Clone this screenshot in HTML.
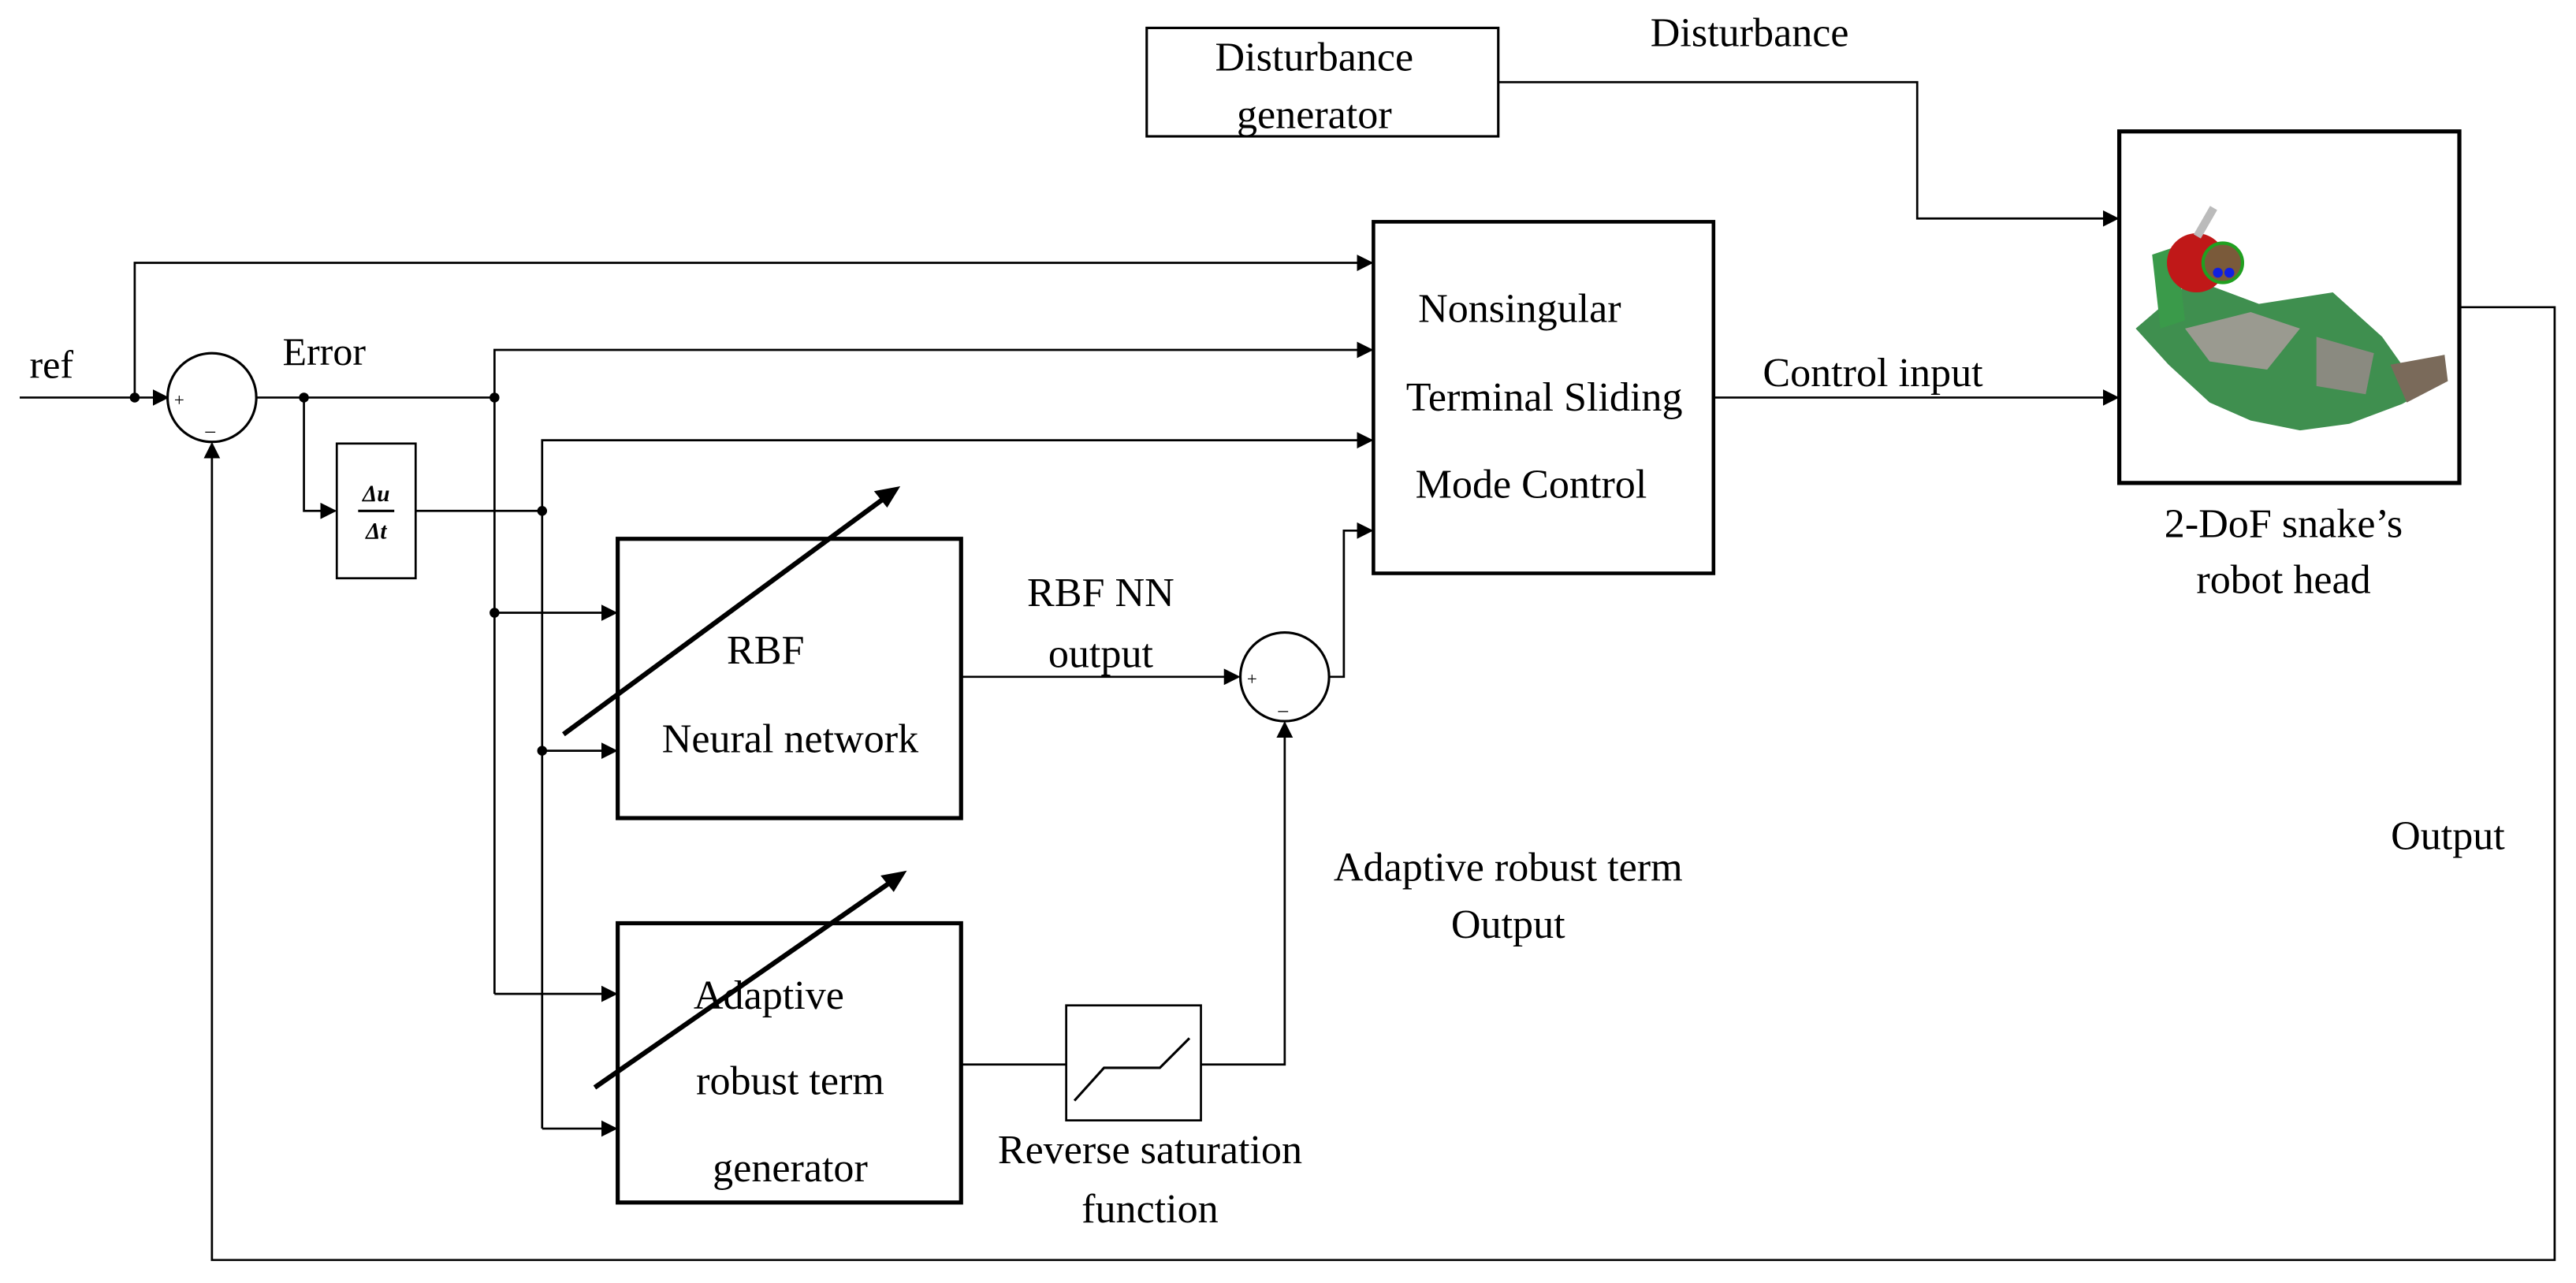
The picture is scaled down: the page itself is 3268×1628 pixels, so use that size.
<!DOCTYPE html>
<html><head><meta charset="utf-8"><style>
html,body{margin:0;padding:0;background:#fff}
svg{display:block}
text{font-family:"Liberation Serif",serif;fill:#000}
</style></head><body>
<svg width="3268" height="1628" viewBox="0 0 1568 781" preserveAspectRatio="none" xmlns="http://www.w3.org/2000/svg">
<defs>
<marker id="a" markerWidth="10" markerHeight="10" refX="9" refY="5" orient="auto" markerUnits="userSpaceOnUse"><path d="M0,0 L10,5 L0,10 z" fill="#000"/></marker>
</defs>
<g fill="none" stroke="#000" stroke-width="1.3">
<line x1="12" y1="242" x2="102" y2="242" marker-end="url(#a)"/>
<polyline points="82,242 82,160 835,160" marker-end="url(#a)"/>
<line x1="156" y1="242" x2="301" y2="242"/>
<polyline points="185,242 185,311 204,311" marker-end="url(#a)"/>
<polyline points="301,242 301,213 835,213" marker-end="url(#a)"/>
<line x1="301" y1="242" x2="301" y2="605"/>
<line x1="301" y1="373" x2="375" y2="373" marker-end="url(#a)"/>
<line x1="301" y1="605" x2="375" y2="605" marker-end="url(#a)"/>
<line x1="253" y1="311" x2="330" y2="311"/>
<polyline points="330,311 330,268 835,268" marker-end="url(#a)"/>
<line x1="330" y1="311" x2="330" y2="687"/>
<line x1="330" y1="457" x2="375" y2="457" marker-end="url(#a)"/>
<line x1="330" y1="687" x2="375" y2="687" marker-end="url(#a)"/>
<line x1="585" y1="412" x2="754" y2="412" marker-end="url(#a)"/>
<polyline points="809,412 818,412 818,323 835,323" marker-end="url(#a)"/>
<line x1="585" y1="648" x2="649" y2="648"/>
<polyline points="731,648 782,648 782,440" marker-end="url(#a)"/>
<polyline points="912,50 1167,50 1167,133 1289,133" marker-end="url(#a)"/>
<line x1="1043" y1="242" x2="1289" y2="242" marker-end="url(#a)"/>
<polyline points="1497,187 1555,187 1555,767 129,767 129,270" marker-end="url(#a)"/>
</g>
<g fill="#000">
<circle cx="82" cy="242" r="3"/><circle cx="185" cy="242" r="3"/><circle cx="301" cy="242" r="3"/>
<circle cx="301" cy="373" r="3"/><circle cx="330" cy="311" r="3"/><circle cx="330" cy="457" r="3"/>
</g>
<circle cx="129" cy="242" r="27" fill="#fff" stroke="#000" stroke-width="1.5"/>
<text x="106" y="247" font-size="11">+</text><text x="125" y="266" font-size="12">–</text>
<circle cx="782" cy="412" r="27" fill="#fff" stroke="#000" stroke-width="1.5"/>
<text x="759" y="417" font-size="11">+</text><text x="778" y="436" font-size="12">–</text>
<rect x="205" y="270" width="48" height="82" fill="#fff" stroke="#000" stroke-width="1.3"/>
<text x="229" y="305" font-size="14" font-weight="bold" text-anchor="middle" font-style="italic">Δu</text>
<line x1="218" y1="311" x2="240" y2="311" stroke="#000" stroke-width="1.5"/>
<text x="229" y="328" font-size="14" font-weight="bold" text-anchor="middle" font-style="italic">Δt</text>
<rect x="836" y="135" width="207" height="214" fill="#fff" stroke="#000" stroke-width="2.2"/>
<text x="925" y="196" font-size="25" text-anchor="middle">Nonsingular</text>
<text x="940" y="250" font-size="25" text-anchor="middle">Terminal Sliding</text>
<text x="932" y="303" font-size="25" text-anchor="middle">Mode Control</text>
<rect x="376" y="328" width="209" height="170" fill="#fff" stroke="#000" stroke-width="2.5"/>
<text x="466" y="404" font-size="25" text-anchor="middle">RBF</text>
<text x="481" y="458" font-size="25" text-anchor="middle">Neural network</text>
<line x1="343" y1="447" x2="540" y2="302" stroke="#000" stroke-width="3"/>
<path d="M548,296 L532,299 L540,309 z" fill="#000"/>
<rect x="376" y="562" width="209" height="170" fill="#fff" stroke="#000" stroke-width="2.5"/>
<line x1="362" y1="662" x2="545" y2="535" stroke="#000" stroke-width="3"/>
<path d="M552,530 L536,533 L544,543 z" fill="#000"/>
<text x="468" y="614" font-size="25" text-anchor="middle">Adaptive</text>
<text x="481" y="666" font-size="25" text-anchor="middle">robust term</text>
<text x="481" y="719" font-size="25" text-anchor="middle">generator</text>
<rect x="649" y="612" width="82" height="70" fill="#fff" stroke="#000" stroke-width="1.3"/>
<polyline points="654,670 672,650 706,650 724,632" fill="none" stroke="#000" stroke-width="1.5"/>
<rect x="698" y="17" width="214" height="66" fill="#fff" stroke="#000" stroke-width="1.5"/>
<text x="800" y="43" font-size="25" text-anchor="middle">Disturbance</text>
<text x="800" y="78" font-size="25" text-anchor="middle">generator</text>
<rect x="1290" y="80" width="207" height="214" fill="#fff" stroke="#000" stroke-width="2.5"/>
<g stroke="none">
<path d="M1300,200 L1335,170 L1375,185 L1420,178 L1450,205 L1462,222 L1488,216 L1488,232 L1462,246 L1430,258 L1400,262 L1370,256 L1345,245 L1320,222 z" fill="#3f8f4f"/>
<path d="M1330,200 L1370,190 L1400,200 L1380,225 L1345,220 z" fill="#9a9a90"/>
<path d="M1410,205 L1445,215 L1440,240 L1410,235 z" fill="#8a8a80"/>
<path d="M1455,222 L1488,216 L1490,232 L1465,245 z" fill="#7a6a5a"/>
<path d="M1310,155 L1325,150 L1330,195 L1315,200 z" fill="#3a9a4a"/>
<circle cx="1337" cy="160" r="18" fill="#c01818"/>
<circle cx="1353" cy="160" r="12" fill="#7a5a3a" stroke="#20a020" stroke-width="2"/>
<circle cx="1350" cy="166" r="3" fill="#1020e0"/><circle cx="1357" cy="166" r="3" fill="#1020e0"/>
<rect x="1340" y="125" width="5" height="20" fill="#bbb" transform="rotate(30 1342 135)"/>
</g>
<text x="18" y="230" font-size="24">ref</text>
<text x="172" y="222" font-size="24">Error</text>
<text x="670" y="369" font-size="25" text-anchor="middle">RBF NN</text>
<text x="670" y="406" font-size="25" text-anchor="middle">output</text>
<text x="918" y="536" font-size="25" text-anchor="middle">Adaptive robust term</text>
<text x="918" y="571" font-size="25" text-anchor="middle">Output</text>
<text x="700" y="708" font-size="25" text-anchor="middle">Reverse saturation</text>
<text x="700" y="744" font-size="25" text-anchor="middle">function</text>
<text x="1065" y="28" font-size="25" text-anchor="middle">Disturbance</text>
<text x="1140" y="235" font-size="25" text-anchor="middle">Control input</text>
<text x="1390" y="327" font-size="25" text-anchor="middle">2-DoF snake’s</text>
<text x="1390" y="361" font-size="25" text-anchor="middle">robot head</text>
<text x="1490" y="517" font-size="25" text-anchor="middle">Output</text>
</svg>
</body></html>
